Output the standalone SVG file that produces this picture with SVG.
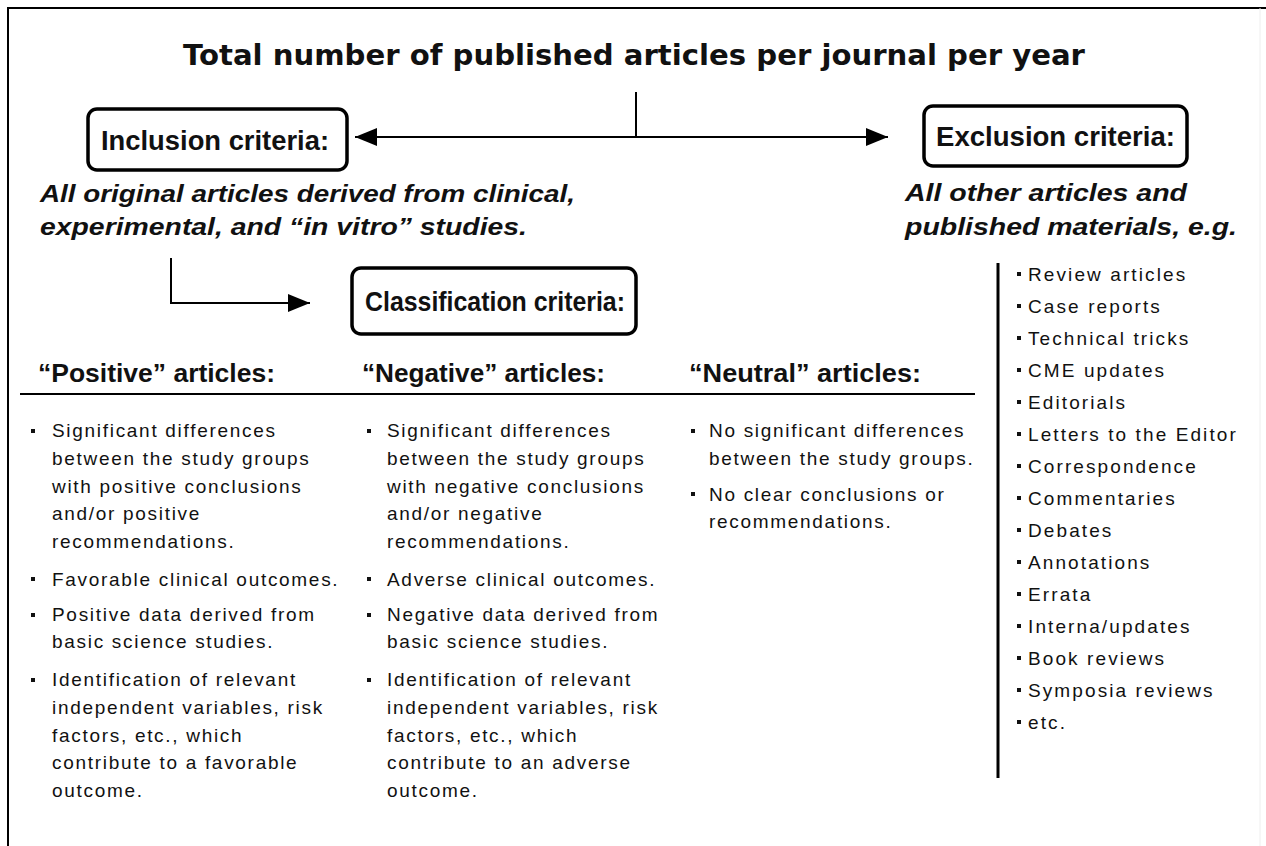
<svg xmlns="http://www.w3.org/2000/svg" width="1266" height="846" viewBox="0 0 1266 846">
<defs>
<marker id="ah" markerUnits="userSpaceOnUse" markerWidth="24" markerHeight="20" refX="22" refY="10" orient="auto">
<path d="M0,1 L22,10 L0,19 z" fill="#000"/>
</marker>
<style>
text{font-family:"Liberation Sans",Arial,sans-serif;fill:#111}
.title{font-family:"DejaVu Sans",Verdana,sans-serif;font-size:29px;font-weight:bold}
.box{fill:#fff;stroke:#000;stroke-width:3.5}
.blab{font-size:27px;font-weight:bold}
.ital{font-size:24px;font-weight:bold;font-style:italic}
.head{font-size:25px;font-weight:bold}
.body{font-size:19px;letter-spacing:1.7px}
.list{font-size:19px;letter-spacing:2.1px}
.conn{stroke:#000;stroke-width:2;fill:none}
.bul{fill:#111}
</style>
</defs>
<rect width="1266" height="846" fill="#fff"/>
<path d="M8,846 V8 H1266" fill="none" stroke="#000" stroke-width="2"/>
<line x1="1260" y1="8" x2="1260" y2="846" stroke="#eee" stroke-width="1"/>

<g id="title"><text class="title" x="183" y="65" textLength="902" lengthAdjust="spacingAndGlyphs">Total number of published articles per journal per year</text></g>

<g id="connectors">
<line class="conn" x1="636" y1="92" x2="636" y2="137"/>
<line class="conn" x1="636" y1="137" x2="355" y2="137" marker-end="url(#ah)"/>
<line class="conn" x1="636" y1="137" x2="888" y2="137" marker-end="url(#ah)"/>
<path class="conn" d="M171,258 V303 H310" marker-end="url(#ah)"/>
</g>

<g id="inclusion">
<rect class="box" x="88" y="109" width="259" height="61" rx="9"/>
<text class="blab" x="101" y="150" textLength="228" lengthAdjust="spacingAndGlyphs">Inclusion criteria:</text>
<text class="ital" x="40" y="202" textLength="535" lengthAdjust="spacingAndGlyphs">All original articles derived from clinical,</text>
<text class="ital" x="40" y="235" textLength="487" lengthAdjust="spacingAndGlyphs">experimental, and “in vitro” studies.</text>
</g>

<g id="exclusion">
<rect class="box" x="924" y="106" width="263" height="60" rx="9"/>
<text class="blab" x="936" y="146" textLength="239" lengthAdjust="spacingAndGlyphs">Exclusion criteria:</text>
<text class="ital" x="905" y="201" textLength="282" lengthAdjust="spacingAndGlyphs">All other articles and</text>
<text class="ital" x="905" y="235" textLength="332" lengthAdjust="spacingAndGlyphs">published materials,  e.g.</text>
</g>

<g id="exclusion-list">
<line x1="998" y1="263" x2="998" y2="778" stroke="#000" stroke-width="3"/>
<g class="bul">
<rect x="1017" y="272" width="4" height="4"/><rect x="1017" y="304" width="4" height="4"/><rect x="1017" y="336" width="4" height="4"/><rect x="1017" y="368" width="4" height="4"/><rect x="1017" y="400" width="4" height="4"/><rect x="1017" y="432" width="4" height="4"/><rect x="1017" y="464" width="4" height="4"/><rect x="1017" y="496" width="4" height="4"/><rect x="1017" y="528" width="4" height="4"/><rect x="1017" y="560" width="4" height="4"/><rect x="1017" y="592" width="4" height="4"/><rect x="1017" y="624" width="4" height="4"/><rect x="1017" y="656" width="4" height="4"/><rect x="1017" y="688" width="4" height="4"/><rect x="1017" y="720" width="4" height="4"/>
</g>
<text class="list" x="1028" y="281">Review articles</text>
<text class="list" x="1028" y="313">Case reports</text>
<text class="list" x="1028" y="345">Technical tricks</text>
<text class="list" x="1028" y="377">CME updates</text>
<text class="list" x="1028" y="409">Editorials</text>
<text class="list" x="1028" y="441">Letters to the Editor</text>
<text class="list" x="1028" y="473">Correspondence</text>
<text class="list" x="1028" y="505">Commentaries</text>
<text class="list" x="1028" y="537">Debates</text>
<text class="list" x="1028" y="569">Annotations</text>
<text class="list" x="1028" y="601">Errata</text>
<text class="list" x="1028" y="633">Interna/updates</text>
<text class="list" x="1028" y="665">Book reviews</text>
<text class="list" x="1028" y="697">Symposia reviews</text>
<text class="list" x="1028" y="729">etc.</text>
</g>

<g id="classification">
<rect class="box" x="352" y="268" width="284" height="66" rx="9"/>
<text class="blab" x="365" y="311" textLength="260" lengthAdjust="spacingAndGlyphs">Classification criteria:</text>
</g>

<g id="headers">
<text class="head" x="38" y="382" textLength="237" lengthAdjust="spacingAndGlyphs">“Positive” articles:</text>
<text class="head" x="362" y="382" textLength="243" lengthAdjust="spacingAndGlyphs">“Negative” articles:</text>
<text class="head" x="689" y="382" textLength="232" lengthAdjust="spacingAndGlyphs">“Neutral” articles:</text>
<line x1="20" y1="394" x2="975" y2="394" stroke="#000" stroke-width="2"/>
</g>

<g id="positive">
<g class="bul"><rect x="31" y="429" width="4" height="4"/><rect x="31" y="577" width="4" height="4"/><rect x="31" y="613" width="4" height="4"/><rect x="31" y="678" width="4" height="4"/></g>
<text class="body" x="52" y="437">Significant differences</text>
<text class="body" x="52" y="465">between the study groups</text>
<text class="body" x="52" y="493">with positive conclusions</text>
<text class="body" x="52" y="520">and/or positive</text>
<text class="body" x="52" y="548">recommendations.</text>
<text class="body" x="52" y="586">Favorable clinical outcomes.</text>
<text class="body" x="52" y="621">Positive data derived from</text>
<text class="body" x="52" y="648">basic science studies.</text>
<text class="body" x="52" y="686">Identification of relevant</text>
<text class="body" x="52" y="714">independent variables, risk</text>
<text class="body" x="52" y="742">factors, etc., which</text>
<text class="body" x="52" y="769">contribute to a favorable</text>
<text class="body" x="52" y="797">outcome.</text>
</g>

<g id="negative">
<g class="bul"><rect x="367" y="429" width="4" height="4"/><rect x="367" y="577" width="4" height="4"/><rect x="367" y="613" width="4" height="4"/><rect x="367" y="678" width="4" height="4"/></g>
<text class="body" x="387" y="437">Significant differences</text>
<text class="body" x="387" y="465">between the study groups</text>
<text class="body" x="387" y="493">with negative conclusions</text>
<text class="body" x="387" y="520">and/or negative</text>
<text class="body" x="387" y="548">recommendations.</text>
<text class="body" x="387" y="586">Adverse clinical outcomes.</text>
<text class="body" x="387" y="621">Negative data derived from</text>
<text class="body" x="387" y="648">basic science studies.</text>
<text class="body" x="387" y="686">Identification of relevant</text>
<text class="body" x="387" y="714">independent variables, risk</text>
<text class="body" x="387" y="742">factors, etc., which</text>
<text class="body" x="387" y="769">contribute to an adverse</text>
<text class="body" x="387" y="797">outcome.</text>
</g>

<g id="neutral">
<g class="bul"><rect x="691" y="429" width="4" height="4"/><rect x="691" y="492" width="4" height="4"/></g>
<text class="body" x="709" y="437">No significant differences</text>
<text class="body" x="709" y="465">between the study groups.</text>
<text class="body" x="709" y="501">No clear conclusions or</text>
<text class="body" x="709" y="528">recommendations.</text>
</g>
</svg>
